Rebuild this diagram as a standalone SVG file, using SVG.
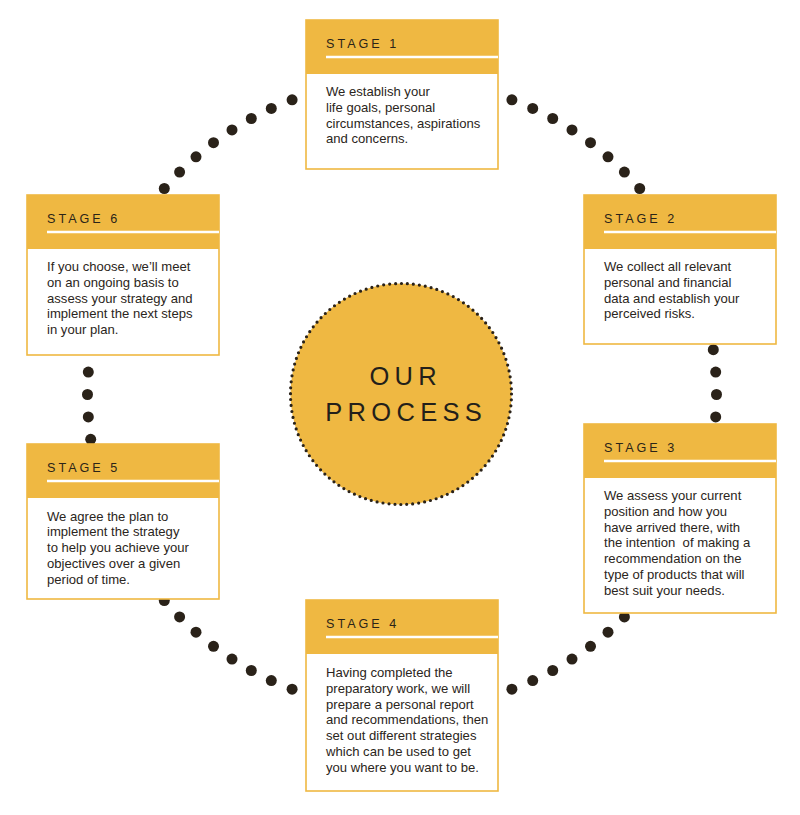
<svg xmlns="http://www.w3.org/2000/svg" width="800" height="815" viewBox="0 0 800 815">
<style>
.bg{fill:#ffffff}
.box{fill:#ffffff;stroke:#efb842;stroke-width:1.6}
.hdr{fill:#efb842}
.rule{stroke:#ffffff;stroke-width:2.5}
.st{font-family:"Liberation Sans",Arial,sans-serif;font-size:12.6px;letter-spacing:3px;fill:#2b2418}
.bd{font-family:"Liberation Sans",Arial,sans-serif;font-size:13.1px;fill:#2b2520}
.dot{fill:#2a2219}
.ttl{font-family:"Liberation Sans",Arial,sans-serif;font-size:25.5px;letter-spacing:5.3px;fill:#231f1a;text-anchor:middle}
</style>
<rect class="bg" x="0" y="0" width="800" height="815"/>

<g id="connectors">
  <g id="c6-1">
    <circle class="dot" cx="292.1" cy="99.8" r="5.5"/><circle class="dot" cx="271.3" cy="108.4" r="5.5"/><circle class="dot" cx="251.3" cy="118.5" r="5.5"/><circle class="dot" cx="232.0" cy="129.9" r="5.5"/><circle class="dot" cx="213.5" cy="142.7" r="5.5"/><circle class="dot" cx="196.0" cy="156.8" r="5.5"/><circle class="dot" cx="179.6" cy="172.1" r="5.5"/><circle class="dot" cx="164.3" cy="188.5" r="5.5"/>
  </g>
  <g id="c1-2">
    <circle class="dot" cx="511.9" cy="99.8" r="5.5"/><circle class="dot" cx="532.7" cy="108.4" r="5.5"/><circle class="dot" cx="552.7" cy="118.5" r="5.5"/><circle class="dot" cx="572.0" cy="129.9" r="5.5"/><circle class="dot" cx="590.5" cy="142.7" r="5.5"/><circle class="dot" cx="608.0" cy="156.8" r="5.5"/><circle class="dot" cx="624.4" cy="172.1" r="5.5"/><circle class="dot" cx="639.7" cy="188.5" r="5.5"/>
  </g>
  <g id="c2-3">
    <circle class="dot" cx="713.3" cy="349.7" r="5.5"/><circle class="dot" cx="715.7" cy="372.1" r="5.5"/><circle class="dot" cx="716.5" cy="394.5" r="5.5"/><circle class="dot" cx="715.7" cy="416.9" r="5.5"/>
  </g>
  <g id="c3-4">
    <circle class="dot" cx="624.4" cy="616.9" r="5.5"/><circle class="dot" cx="608.0" cy="632.2" r="5.5"/><circle class="dot" cx="590.5" cy="646.3" r="5.5"/><circle class="dot" cx="572.0" cy="659.1" r="5.5"/><circle class="dot" cx="552.7" cy="670.5" r="5.5"/><circle class="dot" cx="532.7" cy="680.6" r="5.5"/><circle class="dot" cx="511.9" cy="689.2" r="5.5"/>
  </g>
  <g id="c4-5">
    <circle class="dot" cx="292.1" cy="689.2" r="5.5"/><circle class="dot" cx="271.3" cy="680.6" r="5.5"/><circle class="dot" cx="251.3" cy="670.5" r="5.5"/><circle class="dot" cx="232.0" cy="659.1" r="5.5"/><circle class="dot" cx="213.5" cy="646.3" r="5.5"/><circle class="dot" cx="196.0" cy="632.2" r="5.5"/><circle class="dot" cx="179.6" cy="616.9" r="5.5"/><circle class="dot" cx="164.3" cy="600.5" r="5.5"/>
  </g>
  <g id="c5-6">
    <circle class="dot" cx="90.7" cy="439.3" r="5.5"/><circle class="dot" cx="88.3" cy="416.9" r="5.5"/><circle class="dot" cx="87.5" cy="394.5" r="5.5"/><circle class="dot" cx="88.3" cy="372.1" r="5.5"/>
  </g>
</g>

<g id="center">
  <circle cx="401" cy="394" r="110.5" fill="#efb842" stroke="#2a2219" stroke-width="3.2" stroke-linecap="round" stroke-dasharray="0 5.985"/>
  <text class="ttl" x="405.7" y="385">OUR</text>
  <text class="ttl" x="406.2" y="421">PROCESS</text>
</g>

<g id="stage1" transform="translate(306,20)">
  <rect class="box" x="0" y="0" width="192" height="149"/>
  <rect class="hdr" x="0" y="0" width="192" height="54"/>
  <line class="rule" x1="20" y1="37" x2="192" y2="37"/>
  <text class="st" x="20" y="28">STAGE 1</text>
  <text class="bd" x="20" y="76"><tspan x="20">We establish your</tspan><tspan x="20" dy="15.8">life goals, personal</tspan><tspan x="20" dy="15.8">circumstances, aspirations</tspan><tspan x="20" dy="15.8">and concerns.</tspan></text>
</g>

<g id="stage2" transform="translate(584,195)">
  <rect class="box" x="0" y="0" width="192" height="149"/>
  <rect class="hdr" x="0" y="0" width="192" height="54"/>
  <line class="rule" x1="20" y1="37" x2="192" y2="37"/>
  <text class="st" x="20" y="28">STAGE 2</text>
  <text class="bd" x="20" y="76"><tspan x="20">We collect all relevant</tspan><tspan x="20" dy="15.8">personal and financial</tspan><tspan x="20" dy="15.8">data and establish your</tspan><tspan x="20" dy="15.8">perceived risks.</tspan></text>
</g>

<g id="stage3" transform="translate(584,424)">
  <rect class="box" x="0" y="0" width="192" height="189"/>
  <rect class="hdr" x="0" y="0" width="192" height="54"/>
  <line class="rule" x1="20" y1="37" x2="192" y2="37"/>
  <text class="st" x="20" y="28">STAGE 3</text>
  <text class="bd" x="20" y="76"><tspan x="20">We assess your current</tspan><tspan x="20" dy="15.8">position and how you</tspan><tspan x="20" dy="15.8">have arrived there, with</tspan><tspan x="20" dy="15.8">the intention&#160; of making a</tspan><tspan x="20" dy="15.8">recommendation on the</tspan><tspan x="20" dy="15.8">type of products that will</tspan><tspan x="20" dy="15.8">best suit your needs.</tspan></text>
</g>

<g id="stage4" transform="translate(306,600)">
  <rect class="box" x="0" y="0" width="192" height="191"/>
  <rect class="hdr" x="0" y="0" width="192" height="54"/>
  <line class="rule" x1="20" y1="37" x2="192" y2="37"/>
  <text class="st" x="20" y="28">STAGE 4</text>
  <text class="bd" x="20" y="77"><tspan x="20">Having completed the</tspan><tspan x="20" dy="15.8">preparatory work, we will</tspan><tspan x="20" dy="15.8">prepare a personal report</tspan><tspan x="20" dy="15.8">and recommendations, then</tspan><tspan x="20" dy="15.8">set out different strategies</tspan><tspan x="20" dy="15.8">which can be used to get</tspan><tspan x="20" dy="15.8">you where you want to be.</tspan></text>
</g>

<g id="stage5" transform="translate(27,444)">
  <rect class="box" x="0" y="0" width="192" height="155"/>
  <rect class="hdr" x="0" y="0" width="192" height="54"/>
  <line class="rule" x1="20" y1="37" x2="192" y2="37"/>
  <text class="st" x="20" y="28">STAGE 5</text>
  <text class="bd" x="20" y="76.5"><tspan x="20">We agree the plan to</tspan><tspan x="20" dy="15.8">implement the strategy</tspan><tspan x="20" dy="15.8">to help you achieve your</tspan><tspan x="20" dy="15.8">objectives over a given</tspan><tspan x="20" dy="15.8">period of time.</tspan></text>
</g>

<g id="stage6" transform="translate(27,195)">
  <rect class="box" x="0" y="0" width="192" height="160"/>
  <rect class="hdr" x="0" y="0" width="192" height="54"/>
  <line class="rule" x1="20" y1="37" x2="192" y2="37"/>
  <text class="st" x="20" y="28">STAGE 6</text>
  <text class="bd" x="20" y="76"><tspan x="20">If you choose, we’ll meet</tspan><tspan x="20" dy="15.8">on an ongoing basis to</tspan><tspan x="20" dy="15.8">assess your strategy and</tspan><tspan x="20" dy="15.8">implement the next steps</tspan><tspan x="20" dy="15.8">in your plan.</tspan></text>
</g>
</svg>
